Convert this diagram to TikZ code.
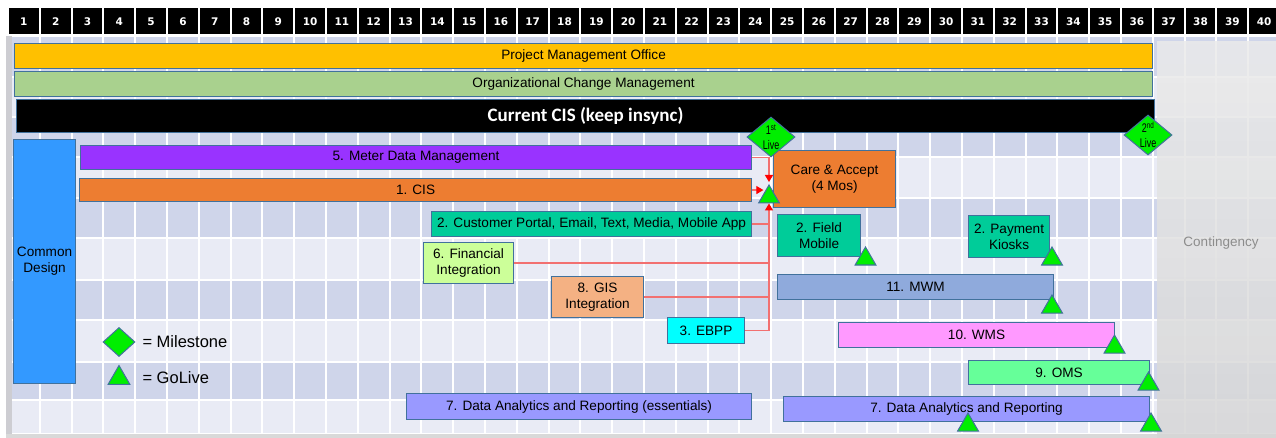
\documentclass[tikz,border=0pt]{standalone}
\usepackage{fontspec}
\usepackage{graphicx}
\setmainfont{Liberation Sans}
\newfontfamily\hdrfont{DejaVu Sans}
\newfontfamily\cisfont{Carlito}
\usetikzlibrary{shapes.geometric,arrows.meta,calc}

\definecolor{bord}{HTML}{41719C}
\definecolor{bandA}{HTML}{CFD5EA}
\definecolor{bandB}{HTML}{E9EBF5}
\definecolor{pmoc}{HTML}{FFC000}
\definecolor{ocmc}{HTML}{A9D18E}
\definecolor{designc}{HTML}{3399FF}
\definecolor{mdmc}{HTML}{9933FF}
\definecolor{orangec}{HTML}{ED7D31}
\definecolor{tealc}{HTML}{00CC99}
\definecolor{finc}{HTML}{CCFF99}
\definecolor{gisc}{HTML}{F4B183}
\definecolor{ebppc}{HTML}{00FFFF}
\definecolor{mwmc}{HTML}{8FAADC}
\definecolor{wmsc}{HTML}{FF99FF}
\definecolor{omsc}{HTML}{66FF99}
\definecolor{darc}{HTML}{9999FF}
\definecolor{livec}{HTML}{00EE00}
\definecolor{linkc}{HTML}{F27070}
\definecolor{contc}{HTML}{8C8C8C}
\definecolor{edgec}{HTML}{CDCDD2}
\definecolor{footc}{HTML}{D9D9D9}

\tikzset{
  hdr/.style={text=white, font=\hdrfont\bfseries\fontsize{10.5}{12}\selectfont, inner sep=0},
  bar/.style={draw=bord, line width=1.1pt, inner sep=0, anchor=north west,
    font=\fontsize{13.6}{16}\selectfont, text=black, align=center},
  milestone/.style={diamond, draw=bord, fill=livec, line width=1pt, inner sep=0,
    minimum width=48pt, minimum height=40pt},
  livetext/.style={font=\fontsize{12.5}{15}\selectfont, align=center, inner sep=0},
  golive/.style={regular polygon, regular polygon sides=3, draw=bord, fill=livec,
    line width=1pt, inner sep=0, minimum size=24pt},
  link/.style={draw=linkc, line width=1.2pt},
  tip/.style={-{Triangle[length=7pt,width=8pt,color=red]}},
  legendtext/.style={anchor=west, font=\fontsize{16.5}{19}\selectfont},
}

\begin{document}
\begin{tikzpicture}[x=1pt,y=-1pt]
\useasboundingbox (0,0) rectangle (1276,438);
\clip (0,0) rectangle (1276,438);
\fill[white] (0,0) rectangle (1276,438);

% month header
\foreach \k in {1,...,40} {
  \pgfmathsetmacro\xl{8+(\k-1)*31.8}
  \fill[black] (\xl+1,8) rectangle (\xl+30.8,34);
  \node[hdr] (h\k) at (\xl+15.9,21.5) {\k};
}

% row bands and column grid
\foreach \t/\b/\c in {36/77/bandA,77/117/bandB,117/157/bandA,157/198/bandB,
  198/238/bandA,238/280/bandB,280/320/bandA,320/362/bandB,362/400/bandA,400/434/bandB}
  \fill[\c] (8,\t+0.7) rectangle (1276,\b-0.7);
\foreach \k in {1,...,39}
  \draw[white, line width=2pt] (8+\k*31.8,36) -- (8+\k*31.8,434);
\fill[edgec] (6,36) rectangle (12,434);
\fill[footc] (6,434) rectangle (1276,438);

% contingency area
\shade[top color=black!8, bottom color=black!16, fill opacity=0.85]
  (1157,42) rectangle (1276,438);
\node[text=contc, font=\fontsize{13.5}{16}\selectfont] (cont) at (1221,243) {Contingency};

% program-wide bars
\node[bar, fill=pmoc, minimum width=1138pt, minimum height=25pt] (pmo) at (14,43) {Project Management Office};
\node[bar, fill=ocmc, minimum width=1138pt, minimum height=25pt] (ocm) at (14,71) {Organizational Change Management};
\node[bar, fill=black, text=white, minimum width=1138pt, minimum height=33pt,
  font=\cisfont\bfseries\fontsize{19}{21}\selectfont] (curcis) at (16,99) {Current CIS (keep insync)};
\node[bar, fill=designc, minimum width=62pt, minimum height=244pt] (design) at (13,139) {Common\\Design};

% workstreams
\node[bar, fill=mdmc, minimum width=671pt, minimum height=24pt] (mdm) at (80,145) {5. Meter Data Management};
\node[bar, fill=orangec, minimum width=672pt, minimum height=23pt] (cis) at (79,178) {1. CIS};
\node[bar, fill=tealc, minimum width=320pt, minimum height=25pt] (cp) at (431,211) {2. Customer Portal, Email, Text, Media, Mobile App};
\node[bar, fill=finc, minimum width=90pt, minimum height=41pt] (fin) at (423,242) {6. Financial\\Integration};
\node[bar, fill=gisc, minimum width=92pt, minimum height=41pt] (gis) at (551,276) {8. GIS\\Integration};
\node[bar, fill=ebppc, minimum width=77pt, minimum height=26pt] (ebpp) at (667,317) {3. EBPP};
\node[bar, fill=orangec, minimum width=122pt, minimum height=57pt] (care) at (773,150) {Care \& Accept\\(4 Mos)};
\node[bar, fill=tealc, minimum width=83pt, minimum height=42pt] (field) at (777,214) {2. Field\\Mobile};
\node[bar, fill=tealc, minimum width=81pt, minimum height=42pt] (kiosk) at (968,215) {2. Payment\\Kiosks};
\node[bar, fill=mwmc, minimum width=276pt, minimum height=25pt] (mwm) at (777,274) {11. MWM};
\node[bar, fill=wmsc, minimum width=276pt, minimum height=25pt] (wms) at (838,322) {10. WMS};
\node[bar, fill=omsc, minimum width=181pt, minimum height=24pt] (oms) at (968,360) {9. OMS};
\node[bar, fill=darc, minimum width=366pt, minimum height=25pt] (dar) at (783,396) {7. Data Analytics and Reporting};
\node[bar, fill=darc, minimum width=345pt, minimum height=26pt] (dare) at (406,393) {7. Data Analytics and Reporting (essentials)};

% milestones
\node[milestone] (live1) at (771,137) {};
\node[livetext] (live1t) at (771,137) {\scalebox{0.72}[1]{1\textsuperscript{st}}\\\scalebox{0.72}[1]{Live}};
\node[milestone] (live2) at (1148,135) {};
\node[livetext] (live2t) at (1148,135) {\scalebox{0.72}[1]{2\textsuperscript{nd}}\\\scalebox{0.72}[1]{Live}};

% go-lives
\node[golive] (go1) at (769,197) {};
\node[golive] (gofield) at (865.5,259) {};
\node[golive] (gokiosk) at (1052,259) {};
\node[golive] (gomwm) at (1052,307) {};
\node[golive] (gowms) at (1114.5,347) {};
\node[golive] (gooms) at (1148.5,384) {};
\node[golive] (godar) at (968,425) {};
\node[golive] (godar2) at (1151,425) {};

% dependencies into the first go-live
\draw[link, tip, shorten >=2pt] (mdm.east) -| (go1.corner 1);
\draw[link, tip] (cis.east) -- (cis.east -| go1.side 1);
\draw[link] (cp.east) -- (cp.east -| go1.side 2);
\draw[link] (fin.east) -- (fin.east -| go1.side 2);
\draw[link] (gis.east) -- (gis.east -| go1.side 2);
\draw[link, tip] (ebpp.east) -| (go1.side 2);

% legend
\node[milestone, minimum width=32pt, minimum height=29pt] (legd) at (119,342) {};
\node[legendtext] (legdt) at (139,342) {= Milestone};
\node[golive, minimum size=25pt] (legt) at (119,378) {};
\node[legendtext] (legtt) at (139,378) {= GoLive};
\end{tikzpicture}
\end{document}
